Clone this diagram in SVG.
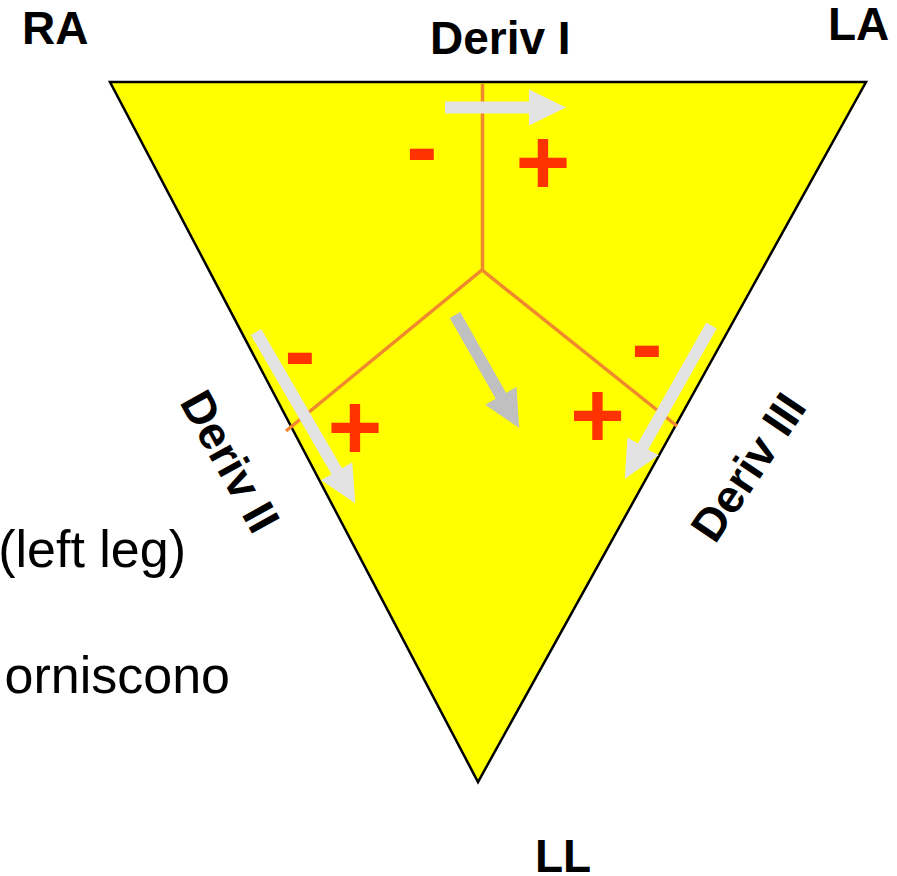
<svg xmlns="http://www.w3.org/2000/svg" width="897" height="876" viewBox="0 0 897 876">
<style>
.lbl{font-family:"Liberation Sans",Arial,sans-serif;font-weight:bold;font-size:46px;fill:#000}
.txt{font-family:"Liberation Sans",Arial,sans-serif;font-size:52px;fill:#000}
.sign{font-family:"Liberation Sans",Arial,sans-serif;font-weight:bold;font-size:94px;fill:#FF3300;text-anchor:middle}
.axis{stroke:#F0882E;stroke-width:3.5;fill:none}
.arr{fill:#E3E3E3}
.arr2{fill:#C0C0C0}
</style>
<rect width="897" height="876" fill="#fff"/>
<g id="triangle">
<polygon points="110,82 866,82 478,782" fill="#FFFF00" stroke="#000" stroke-width="2.5" stroke-linejoin="miter"/>
</g>
<g id="connectors">
<line class="axis" x1="482.5" y1="84" x2="482.5" y2="270"/>
<polyline class="axis" points="286,431 482,270 677,426"/>
<path class="arr" transform="translate(445,107.5)" d="M0,-6 H84 V-18 L121,0 L84,18 V6 H0 Z"/>
<path class="arr" transform="translate(256,332) rotate(59.9)" d="M0,-6 H161 V-18 L198,0 L161,18 V6 H0 Z"/>
<path class="arr" transform="translate(711.5,325.5) rotate(119.5)" d="M0,-6 H139 V-18 L176,0 L139,18 V6 H0 Z"/>
<path class="arr2" transform="translate(455,315) rotate(60.4)" d="M0,-6 H93 V-18 L130,0 L93,18 V6 H0 Z"/>
</g>
<g id="signs">
<text class="sign" x="422" y="179">-</text>
<text class="sign" x="543" y="194">+</text>
<text class="sign" x="300" y="383">-</text>
<text class="sign" x="355" y="459">+</text>
<text class="sign" x="647" y="376">-</text>
<text class="sign" x="597.5" y="447">+</text>
</g>
<g id="RA"><text class="lbl" x="22" y="44">RA</text></g>
<g id="LA"><text class="lbl" x="828" y="40">LA</text></g>
<g id="DerivI"><text class="lbl" x="430" y="54">Deriv I</text></g>
<g id="LL"><text class="lbl" x="535" y="872">LL</text></g>
<g id="DerivII"><text class="lbl" transform="translate(179,402) rotate(61)">Deriv II</text></g>
<g id="DerivIII"><text class="lbl" transform="translate(715,545) rotate(-56)">Deriv III</text></g>
<g id="notes">
<text class="txt" x="186" y="566.5" text-anchor="end">(left leg)</text>
<text class="txt" x="230" y="693" text-anchor="end">orniscono</text>
</g>
</svg>
